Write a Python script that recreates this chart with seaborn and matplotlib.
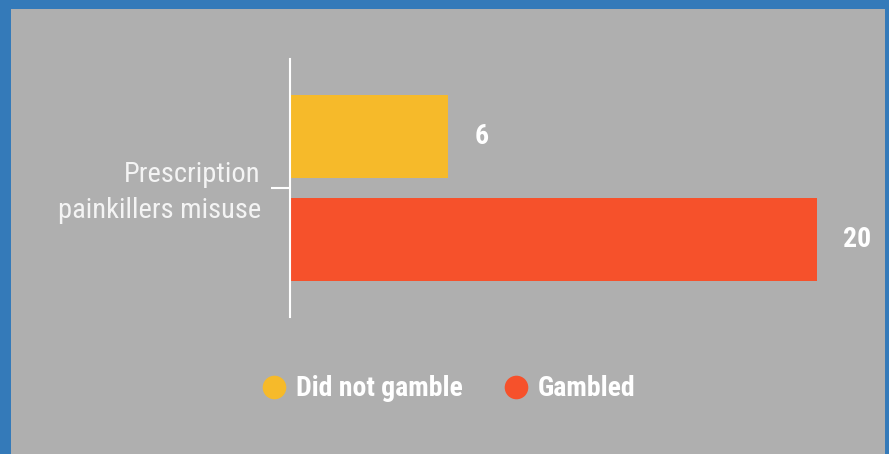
"""Prescription painkillers misuse: gamblers vs non-gamblers (horizontal bars)."""
import matplotlib

matplotlib.use("Agg")
import matplotlib.pyplot as plt
import matplotlib.transforms as mtransforms
import pandas as pd
import seaborn as sns
from matplotlib import font_manager
from matplotlib.lines import Line2D
from matplotlib.patches import Rectangle

# ── data ────────────────────────────────────────────────────────────
categories = ["Prescription\npainkillers misuse"]
groups = ["Did not gamble", "Gambled"]
values_not_gambled = [6]
values_gambled = [20]

GROUP_COLOURS = {"Did not gamble": "#F6BA2A", "Gambled": "#F6512B"}
PANEL_GREY = "#AFAFAF"
FRAME_BLUE = "#347AB9"
TEXT_WHITE = "#FFFFFF"


def pick_font(candidates):
    """Return the first installed family among candidates."""
    installed = {f.name for f in font_manager.fontManager.ttflist}
    for name in candidates:
        if name in installed:
            return name
    return "DejaVu Sans"


FONT = pick_font(["Roboto Condensed", "Liberation Sans Narrow", "Roboto", "DejaVu Sans"])

rows = []
for i, cat in enumerate(categories):
    rows.append({"category": cat, "group": groups[0], "value": values_not_gambled[i]})
    rows.append({"category": cat, "group": groups[1], "value": values_gambled[i]})
df = pd.DataFrame(rows)

sns.set_theme(style="white")
plt.rcParams["font.family"] = [FONT, "DejaVu Sans"]

W, H = 889, 454
fig = plt.figure(figsize=(W / 100, H / 100), dpi=100)
fig.patch.set_facecolor(FRAME_BLUE)
# grey panel inside the blue frame
fig.add_artist(Rectangle((11 / W, 0), (885 - 11) / W, (H - 9) / H,
                         transform=fig.transFigure, facecolor=PANEL_GREY,
                         edgecolor="none", zorder=0))

ax = fig.add_axes([290 / W, 1 - 317 / H, (817 - 290) / W, (317 - 59) / H])
ax.set_facecolor("none")

sns.barplot(data=df, y="category", x="value", hue="group", orient="h",
            palette=GROUP_COLOURS, hue_order=groups, width=0.8, gap=0.19,
            legend=False, ax=ax, saturation=1, linewidth=0, edgecolor="none")

for container in ax.containers:
    ax.bar_label(container, padding=19, color=TEXT_WHITE, fontsize=20,
                 fontweight="bold", fontfamily=[FONT, "DejaVu Sans"])

ax.set_xlim(0, 20)
ax.set_ylim(0.5, -0.5)
ax.set_xlabel("")
ax.set_ylabel("")
ax.set_xticks([])
for side in ("top", "right", "bottom"):
    ax.spines[side].set_visible(False)
ax.spines["left"].set_color(TEXT_WHITE)
ax.spines["left"].set_linewidth(1.5)
ax.tick_params(axis="y", left=True, length=14, width=1.5, color=TEXT_WHITE,
               pad=7, labelsize=20.5, labelcolor="#F4F4F4")
# nudge the category label up a few pixels to sit like the reference
lift = mtransforms.ScaledTranslation(0, 3 / 100, fig.dpi_scale_trans)
for lbl in ax.get_yticklabels():
    lbl.set_horizontalalignment("right")
    lbl.set_multialignment("right")
    lbl.set_linespacing(1.45)
    lbl.set_transform(lbl.get_transform() + lift)

handles = [Line2D([], [], marker="o", linestyle="none", markersize=17,
                  markerfacecolor=GROUP_COLOURS[g], markeredgecolor="none", label=g)
           for g in groups]
leg = fig.legend(handles=handles, loc="center", bbox_to_anchor=(448 / W, 1 - 389 / H),
                 ncol=2, frameon=False, handletextpad=0.3, columnspacing=1.4,
                 handlelength=1.0, prop={"family": [FONT, "DejaVu Sans"],
                                         "weight": "bold", "size": 20})
for txt in leg.get_texts():
    txt.set_color(TEXT_WHITE)

fig.savefig("out.png", dpi=100, facecolor=fig.get_facecolor())
